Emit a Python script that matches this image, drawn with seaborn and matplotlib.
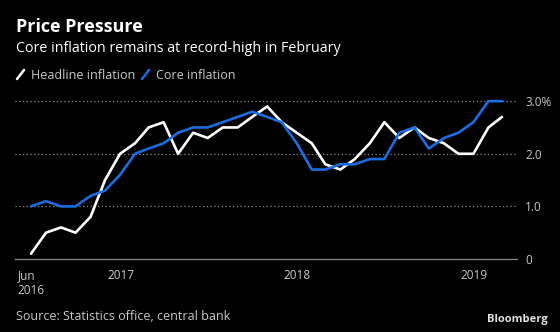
import matplotlib
matplotlib.use("Agg")
import matplotlib.pyplot as plt
import matplotlib.dates as mdates
import seaborn as sns
import pandas as pd

dates = pd.date_range("2016-06-30", periods=33, freq="ME")
headline = [0.1, 0.5, 0.6, 0.5, 0.8, 1.5, 2.0, 2.2, 2.5, 2.6, 2.0, 2.4,
            2.3, 2.5, 2.5, 2.7, 2.9, 2.6, 2.4, 2.2, 1.8, 1.7, 1.9, 2.2,
            2.6, 2.3, 2.5, 2.3, 2.2, 2.0, 2.0, 2.5, 2.7]
core = [1.0, 1.1, 1.0, 1.0, 1.2, 1.3, 1.6, 2.0, 2.1, 2.2, 2.4, 2.5,
        2.5, 2.6, 2.7, 2.8, 2.7, 2.6, 2.2, 1.7, 1.7, 1.8, 1.8, 1.9,
        1.9, 2.4, 2.5, 2.1, 2.3, 2.4, 2.6, 3.0, 3.0]
y_ticks = [0, 1, 2, 3]
y_labels = ["0", "1.0", "2.0", "3.0%"]
x_ticks = ["2016-06-30", "2017-01-01", "2018-01-01", "2019-01-01"]
x_labels = ["Jun\n2016", "2017", "2018", "2019"]

df = pd.DataFrame({"date": list(dates) * 2,
                   "value": headline + core,
                   "series": ["Headline inflation"] * 33 + ["Core inflation"] * 33})

sns.set_theme(style="dark")
plt.rcParams["font.family"] = ["Open Sans", "DejaVu Sans"]
BG = "#000000"
GRID = "#8a8a8a"
TXT = "#c8c8c8"
BLUE = "#1a6de0"

fig = plt.figure(figsize=(5.6, 3.32), dpi=100, facecolor=BG)
ax = fig.add_axes([15 / 560, 1 - 259 / 332, (517 - 15) / 560, (259 - 98) / 332])
ax.set_facecolor(BG)

sns.lineplot(data=df, x="date", y="value", hue="series",
             palette={"Headline inflation": "#ffffff", "Core inflation": BLUE},
             hue_order=["Headline inflation", "Core inflation"],
             linewidth=1.9, legend=False, ax=ax)

ax.set_xlim(pd.Timestamp("2016-05-28"), pd.Timestamp("2019-03-31"))
ax.set_ylim(0, 3.06)
for v in y_ticks[1:]:
    ax.axhline(v, color=GRID, lw=0.9, ls=(0, (1, 2)), zorder=0)
ax.grid(False)
for s in ["top", "left", "right"]:
    ax.spines[s].set_visible(False)
ax.spines["bottom"].set_color(GRID)
ax.spines["bottom"].set_linewidth(0.9)

ax.yaxis.tick_right()
ax.set_yticks(y_ticks)
ax.set_yticklabels(y_labels)
ax.set_xticks([mdates.date2num(pd.Timestamp(t)) for t in x_ticks])
ax.set_xticklabels(x_labels, ha="center", va="top", multialignment="left")
ax.tick_params(axis="x", colors=GRID, labelcolor=TXT, length=4, width=0.9,
               direction="out", labelsize=8.5, pad=3)
ax.tick_params(axis="y", length=0, labelcolor=TXT, labelsize=8.5, pad=6)
ax.set_xlabel("")
ax.set_ylabel("")

fig.text(16 / 560, 1 - 32.5 / 332, "Price Pressure", color="white",
         fontsize=13, fontweight="bold", va="baseline")
fig.text(16 / 560, 1 - 52.5 / 332, "Core inflation remains at record-high in February",
         color="white", fontsize=10.3, va="baseline")

# legend
y_leg = 1 - 79 / 332
x0 = 17
for label, col in [("Headline inflation", "#ffffff"), ("Core inflation", BLUE)]:
    fig.add_artist(plt.Line2D([x0 / 560, (x0 + 7) / 560], [y_leg, y_leg + 9 / 332],
                              color=col, lw=1.8, transform=fig.transFigure))
    fig.text((x0 + 14) / 560, y_leg, label, color=TXT, fontsize=9, va="baseline")
    x0 += 125

fig.text(16 / 560, 1 - 320 / 332, "Source: Statistics office, central bank",
         color=TXT, fontsize=9, va="baseline")
fig.text(548 / 560, 1 - 322 / 332, "Bloomberg", color="#e0e0e0",
         fontsize=8, fontweight="bold", ha="right", va="baseline")

fig.savefig("out.png", dpi=100, facecolor=BG)
